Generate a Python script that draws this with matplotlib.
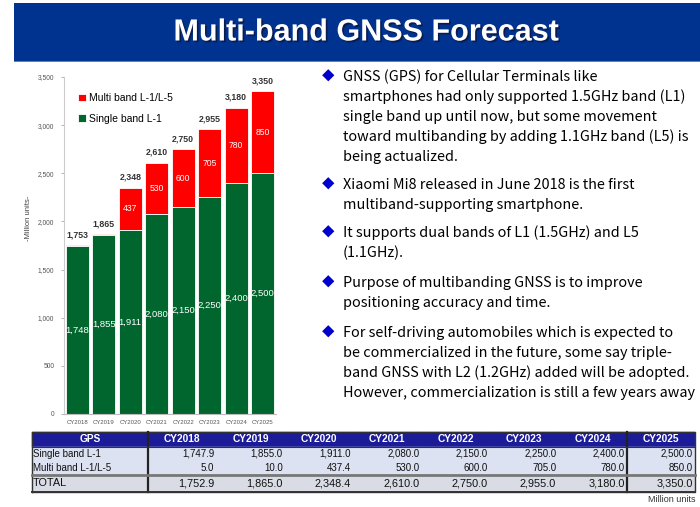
import matplotlib
matplotlib.use('Agg')
import matplotlib.pyplot as plt
import matplotlib.patheffects as pe
from matplotlib.table import Table

plt.rcParams['font.family'] = ['Liberation Sans', 'DejaVu Sans']

W, H = 700, 507

# data
years = ['CY2018', 'CY2019', 'CY2020', 'CY2021', 'CY2022', 'CY2023', 'CY2024', 'CY2025']
single_band = [1747.9, 1855.0, 1911.0, 2080.0, 2150.0, 2250.0, 2400.0, 2500.0]
multi_band = [5.0, 10.0, 437.4, 530.0, 600.0, 705.0, 780.0, 850.0]
totals = [1752.9, 1865.0, 2348.4, 2610.0, 2750.0, 2955.0, 3180.0, 3350.0]
yticks = [0, 500, 1000, 1500, 2000, 2500, 3000, 3500]

row_names = ['Single band L-1', 'Multi band L-1/L-5', 'TOTAL']
series_names = ['Multi band L-1/L-5', 'Single band L-1']

bullets = [
    ['GNSS (GPS) for Cellular Terminals like',
     'smartphones had only supported 1.5GHz band (L1)',
     'single band up until now, but some movement',
     'toward multibanding by adding 1.1GHz band (L5) is',
     'being actualized.'],
    ['Xiaomi Mi8 released in June 2018 is the first',
     'multiband-supporting smartphone.'],
    ['It supports dual bands of L1 (1.5GHz) and L5',
     '(1.1GHz).'],
    ['Purpose of multibanding GNSS is to improve',
     'positioning accuracy and time.'],
    ['For self-driving automobiles which is expected to',
     'be commercialized in the future, some say triple-',
     'band GNSS with L2 (1.2GHz) added will be adopted.',
     'However, commercialization is still a few years away'],
]
bullet_tops = [77, 185, 233, 283, 333]

GREEN = '#00662E'
RED = '#FF0000'


def box(x0, y0, x1, y1):
    # pixel box (top-left origin) -> figure fraction rect
    return [x0 / W, 1 - y1 / H, (x1 - x0) / W, (y1 - y0) / H]


fig = plt.figure(figsize=(W / 100, H / 100), dpi=100)

# title band
band = fig.add_axes(box(14, 3, 700, 62))
band.set_xlim(0, 1)
band.set_ylim(0, 1)
band.axis('off')
band.add_patch(plt.Rectangle((0, 0), 1, 1, color='#00338F', transform=band.transAxes))
band.axhline(0, color='#5A7FC8', lw=1.5)
band.text(0.513, 0.5, 'Multi-band GNSS Forecast', color='white', fontsize=22,
          fontweight='bold', ha='center', va='center',
          path_effects=[pe.withSimplePatchShadow(offset=(1.2, -1.2), shadow_rgbFace='#111133', alpha=0.7)])

# bar chart
ax = fig.add_axes(box(64, 77, 276, 414))
x = range(len(years))
b_multi = ax.bar(x, multi_band, 0.88, bottom=single_band, color=RED, edgecolor='white', lw=0.6)
b_single = ax.bar(x, single_band, 0.88, color=GREEN, edgecolor='white', lw=0.6)
ax.set_xlim(-0.5, len(years) - 0.5)
ax.set_ylim(0, 3500)
ax.set_yticks(yticks)
ax.set_yticklabels([f'{v:,}' for v in yticks])
ax.set_xticks(list(x))
ax.set_xticklabels(years)
ax.tick_params(axis='y', labelsize=4.8, labelcolor='#555555', length=2, color='#BBBBBB', pad=5)
ax.tick_params(axis='x', labelsize=4.3, labelcolor='#555555', length=0, pad=4)
for s in ['top', 'right']:
    ax.spines[s].set_visible(False)
ax.spines['left'].set_color('#CCCCCC')
ax.spines['bottom'].set_color('#BBBBBB')
ax.set_ylabel('-Million units-', fontsize=5.5, color='#444444')
ax.yaxis.set_label_coords(-0.15, 0.58)

for i in x:
    ax.text(i, single_band[i] / 2, f'{single_band[i]:,.0f}', color='white',
            fontsize=6.8, ha='center', va='center')
    if multi_band[i] >= 100:
        ax.text(i, single_band[i] + multi_band[i] / 2, f'{multi_band[i]:,.0f}',
                color='white', fontsize=6.2, ha='center', va='center')
    ax.annotate(f'{totals[i]:,.0f}', (i, totals[i]), xytext=(0, 7.5),
                textcoords='offset points', ha='center', va='center',
                fontsize=6.3, fontweight='bold', color='#333333')

ax.legend([b_multi, b_single], series_names, loc='upper left', bbox_to_anchor=(0.02, 0.98),
          frameon=False, fontsize=7.5, handlelength=0.8, handleheight=0.8,
          handletextpad=0.3, labelspacing=1.0)

# bullet text
for lines, top in zip(bullets, bullet_tops):
    fig.text(328 / W, 1 - top / H, '\u25C6', color='#0000CC', fontsize=9,
             ha='center', va='center', family=['Noto Sans CJK JP', 'DejaVu Sans'])
    for k, line in enumerate(lines):
        fig.text(343 / W, 1 - (top + 20 * k) / H, line, color='#000000', fontsize=10.4,
                 ha='left', va='center', family=['Noto Sans CJK JP', 'DejaVu Sans'])

# table
tx = fig.add_axes(box(32, 432, 695, 492))
tx.axis('off')
tx.set_xlim(0, 1)
tx.set_ylim(0, 1)
col_w = [116] + [68.4] * len(years)
row_h = [15, 14, 14, 17]
tot_w, tot_h = sum(col_w), sum(row_h)
tab = Table(tx, bbox=[0, 0, 1, 1])
body = [single_band, multi_band, totals]
fills = ['#DCE2F2', '#DCE2F2', '#D9DCE4']
header = ['GPS'] + years
for c, name in enumerate(header):
    cell = tab.add_cell(0, c, col_w[c] / tot_w, row_h[0] / tot_h, text=name, loc='center',
                        facecolor='#1C1C99', edgecolor='#1C1C99')
    cell.get_text().set_color('white')
    cell.get_text().set_fontweight('bold')
for r, (name, vals) in enumerate(zip(row_names, body), start=1):
    cell = tab.add_cell(r, 0, col_w[0] / tot_w, row_h[r] / tot_h, text=name, loc='left',
                        facecolor=fills[r - 1], edgecolor=fills[r - 1])
    cell.PAD = 0.01
    for c, v in enumerate(vals, start=1):
        cell = tab.add_cell(r, c, col_w[c] / tot_w, row_h[r] / tot_h, text=f'{v:,.1f}',
                            loc='right', facecolor=fills[r - 1], edgecolor=fills[r - 1])
        cell.PAD = 0.03
tab.auto_set_font_size(False)
tab.set_fontsize(7)
for (r, c), cell in tab.get_celld().items():
    cell.set_linewidth(0.3)
    cell.get_text().set_color('#111111' if r else 'white')
    if r == 0:
        cell.get_text().set_fontsize(7.3)
    if r == 3:
        cell.get_text().set_fontsize(7.8)
tx.add_table(tab)

# table rules
xs = [0]
for w_ in col_w:
    xs.append(xs[-1] + w_ / tot_w)
ys = [1]
for h_ in row_h:
    ys.append(ys[-1] - h_ / tot_h)
tx.plot([0, 1, 1, 0, 0], [0, 0, 1, 1, 0], color='#333333', lw=1.0, clip_on=False)
tx.plot([xs[1], xs[1]], [0, 1], color='#222222', lw=1.6, clip_on=False)
tx.plot([xs[-2], xs[-2]], [0, 1], color='#222222', lw=1.6, clip_on=False)
tx.plot([0, 1], [ys[1], ys[1]], color='#333333', lw=0.8, clip_on=False)
tx.plot([0, 1], [ys[3], ys[3]], color='#777777', lw=2.0, clip_on=False)
tx.plot([0, 1], [ys[4], ys[4]], color='#333333', lw=1.4, clip_on=False)

fig.text(695 / W, 1 - 499 / H, 'Million units', fontsize=6.5, color='#333333',
         ha='right', va='center')

fig.savefig('out.png', dpi=100)
